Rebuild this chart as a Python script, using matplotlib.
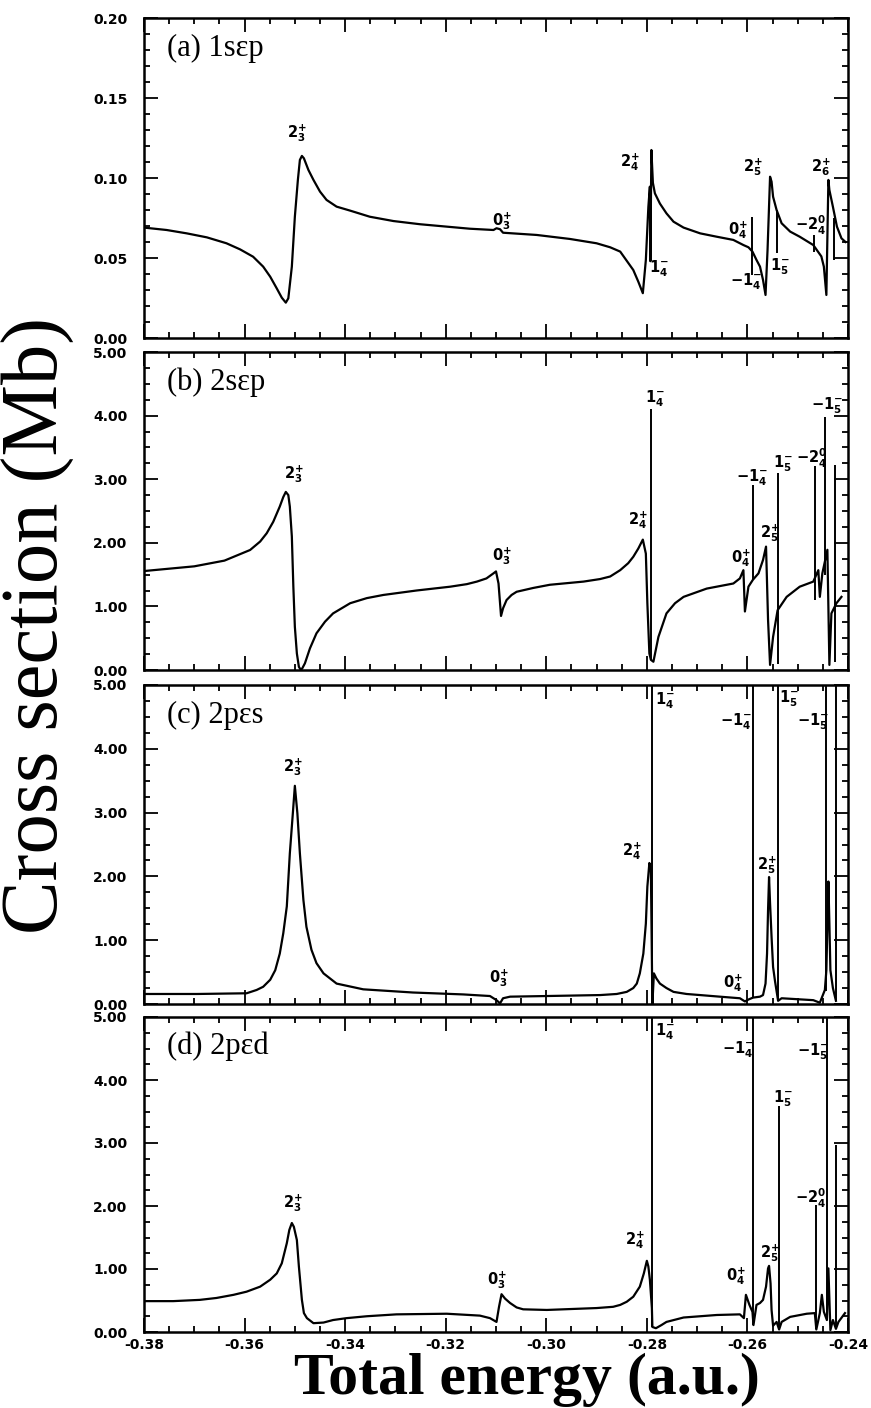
import numpy as np
import matplotlib
matplotlib.use("Agg")
import matplotlib.pyplot as plt
from matplotlib.ticker import MultipleLocator, FormatStrFormatter

plt.rcParams['axes.unicode_minus'] = False
plt.rcParams['mathtext.fontset'] = 'dejavusans'
plt.rcParams['mathtext.default'] = 'bf'

# ---- panel (a) 1s-ep : (energy, cross section) ----
curve_a = [(-0.3800, 0.0690), (-0.3755, 0.0675), (-0.3715, 0.0654), (-0.3675, 0.0629),
           (-0.3636, 0.0592), (-0.3609, 0.0554), (-0.3583, 0.0508), (-0.3563, 0.0446),
           (-0.3549, 0.0383), (-0.3536, 0.0310), (-0.3526, 0.0252), (-0.3518, 0.0221),
           (-0.3513, 0.0248), (-0.3506, 0.0446), (-0.3500, 0.0758), (-0.3494, 0.0988),
           (-0.3490, 0.1113), (-0.3486, 0.1138), (-0.3482, 0.1123), (-0.3473, 0.1050),
           (-0.3463, 0.0988), (-0.3450, 0.0915), (-0.3437, 0.0863), (-0.3417, 0.0821),
           (-0.3390, 0.0796), (-0.3351, 0.0758), (-0.3304, 0.0731), (-0.3251, 0.0711),
           (-0.3198, 0.0696), (-0.3152, 0.0683), (-0.3105, 0.0675), (-0.3099, 0.0686),
           (-0.3092, 0.0680), (-0.3086, 0.0658), (-0.3019, 0.0644), (-0.2953, 0.0619),
           (-0.2900, 0.0592), (-0.2873, 0.0567), (-0.2853, 0.0540), (-0.2827, 0.0425),
           (-0.2817, 0.0352), (-0.2808, 0.0280), (-0.2802, 0.0488), (-0.2797, 0.0820),
           (-0.2794, 0.0946), (-0.2793, 0.0480), (-0.2791, 0.1175), (-0.2788, 0.0970),
           (-0.2784, 0.0904), (-0.2774, 0.0840), (-0.2761, 0.0779), (-0.2747, 0.0727),
           (-0.2727, 0.0690), (-0.2694, 0.0654), (-0.2661, 0.0633), (-0.2628, 0.0613),
           (-0.2608, 0.0581), (-0.2598, 0.0567), (-0.2590, 0.0540), (-0.2582, 0.0488),
           (-0.2575, 0.0446), (-0.2569, 0.0363), (-0.2564, 0.0269), (-0.2560, 0.0550),
           (-0.2555, 0.1008), (-0.2552, 0.0977), (-0.2549, 0.0883), (-0.2542, 0.0800),
           (-0.2532, 0.0717), (-0.2515, 0.0665), (-0.2496, 0.0633), (-0.2469, 0.0581),
           (-0.2453, 0.0510), (-0.2448, 0.0446), (-0.2443, 0.0269), (-0.2439, 0.0988),
           (-0.2437, 0.0925), (-0.2430, 0.0820), (-0.2422, 0.0696), (-0.2413, 0.0623),
           (-0.2405, 0.0600)]
spike_xa = [-0.2590, -0.2542, -0.2468, -0.2427]
spike_loa = [0.0394, 0.053, 0.054, 0.049]
spike_hia = [0.0758, 0.080, 0.0644, 0.0748]
lab_a = [r'$2^{+}_{3}$', r'$0^{+}_{3}$', r'$2^{+}_{4}$', r'$1^{-}_{4}$', r'$2^{+}_{5}$',
         r'$0^{+}_{4}$', r'$-1^{-}_{4}$', r'$1^{-}_{5}$', r'$-2^{0}_{4}$', r'$2^{+}_{6}$']
lab_xa = [-0.3496, -0.3089, -0.2834, -0.2777, -0.2590, -0.2618, -0.2602, -0.2535, -0.2474, -0.2454]
lab_ya = [0.128, 0.073, 0.110, 0.0435, 0.107, 0.0675, 0.035, 0.0446, 0.0706, 0.107]

# ---- panel (b) 2s-ep ----
curve_b = [(-0.3800, 1.556), (-0.3700, 1.63), (-0.3640, 1.72), (-0.3589, 1.887), (-0.3569, 2.02),
           (-0.3556, 2.15), (-0.3543, 2.33), (-0.3530, 2.57), (-0.3523, 2.72), (-0.3518, 2.80),
           (-0.3513, 2.75), (-0.3510, 2.57), (-0.3506, 2.10), (-0.3503, 1.31), (-0.3500, 0.68),
           (-0.3496, 0.26), (-0.3492, 0.05), (-0.3488, 0.0), (-0.3485, 0.03), (-0.3480, 0.105),
           (-0.3470, 0.34), (-0.3457, 0.577), (-0.3440, 0.76), (-0.3424, 0.89), (-0.3390, 1.05),
           (-0.3357, 1.13), (-0.3324, 1.18), (-0.3258, 1.25), (-0.3191, 1.31), (-0.3158, 1.35),
           (-0.3138, 1.39), (-0.3119, 1.44), (-0.3105, 1.52), (-0.3100, 1.55), (-0.3095, 1.36),
           (-0.3090, 0.85), (-0.3086, 0.97), (-0.3079, 1.10), (-0.3069, 1.18), (-0.3059, 1.23),
           (-0.3026, 1.29), (-0.2993, 1.34), (-0.2926, 1.39), (-0.2893, 1.43), (-0.2873, 1.47),
           (-0.2853, 1.57), (-0.2837, 1.68), (-0.2827, 1.78), (-0.2817, 1.91), (-0.2808, 2.05),
           (-0.2802, 1.83), (-0.2799, 1.05), (-0.2795, 0.26), (-0.2792, 0.16), (-0.2787, 0.13),
           (-0.2777, 0.52), (-0.2761, 0.89), (-0.2744, 1.05), (-0.2727, 1.15), (-0.2681, 1.28),
           (-0.2628, 1.36), (-0.2615, 1.44), (-0.2608, 1.57), (-0.2605, 0.92), (-0.2598, 1.31),
           (-0.2589, 1.42), (-0.2578, 1.52), (-0.2569, 1.73), (-0.2563, 1.94), (-0.2559, 0.79),
           (-0.2555, 0.08), (-0.2549, 0.52), (-0.2540, 0.94), (-0.2522, 1.15), (-0.2496, 1.31),
           (-0.2469, 1.39), (-0.2459, 1.57), (-0.2456, 1.15), (-0.2451, 1.52), (-0.2441, 1.89),
           (-0.2437, 0.08), (-0.2433, 0.89), (-0.2423, 1.05), (-0.2413, 1.15)]
spike_xb = [-0.2792, -0.2589, -0.2540, -0.2466, -0.2445, -0.2426]
spike_lob = [0.16, 1.42, 0.10, 1.10, 1.50, 0.13]
spike_hib = [4.10, 2.91, 3.09, 3.20, 3.98, 3.22]
lab_b = [r'$2^{+}_{3}$', r'$0^{+}_{3}$', r'$2^{+}_{4}$', r'$1^{-}_{4}$', r'$0^{+}_{4}$',
         r'$-1^{-}_{4}$', r'$2^{+}_{5}$', r'$1^{-}_{5}$', r'$-2^{0}_{4}$', r'$-1^{-}_{5}$']
lab_xb = [-0.3501, -0.3089, -0.2817, -0.2784, -0.2612, -0.2590, -0.2555, -0.2530, -0.2472, -0.2441]
lab_yb = [3.08, 1.79, 2.36, 4.27, 1.76, 3.03, 2.15, 3.24, 3.33, 4.15]

# ---- panel (c) 2p-es ----
curve_c = [(-0.3800, 0.157), (-0.3695, 0.157), (-0.3596, 0.168), (-0.3576, 0.22), (-0.3563, 0.27),
           (-0.3549, 0.38), (-0.3539, 0.53), (-0.3530, 0.79), (-0.3523, 1.11), (-0.3516, 1.53),
           (-0.3510, 2.36), (-0.3504, 2.99), (-0.3500, 3.42), (-0.3495, 2.99), (-0.3490, 2.36),
           (-0.3483, 1.63), (-0.3477, 1.21), (-0.3467, 0.85), (-0.3457, 0.64), (-0.3443, 0.48),
           (-0.3417, 0.32), (-0.3364, 0.23), (-0.3265, 0.18), (-0.3165, 0.15), (-0.3112, 0.125),
           (-0.3099, 0.06), (-0.3092, 0.01), (-0.3086, 0.09), (-0.3072, 0.115), (-0.2999, 0.125),
           (-0.2893, 0.14), (-0.2860, 0.157), (-0.2840, 0.19), (-0.2827, 0.25), (-0.2820, 0.32),
           (-0.2814, 0.48), (-0.2807, 0.79), (-0.2802, 1.26), (-0.2799, 1.84), (-0.2795, 2.21),
           (-0.2792, 2.10), (-0.2789, 0.0), (-0.2786, 0.48), (-0.2781, 0.40), (-0.2774, 0.32),
           (-0.2761, 0.25), (-0.2747, 0.19), (-0.2721, 0.157), (-0.2694, 0.14), (-0.2655, 0.115),
           (-0.2615, 0.09), (-0.2605, 0.04), (-0.2598, 0.07), (-0.2589, 0.10), (-0.2575, 0.115),
           (-0.2569, 0.14), (-0.2564, 0.32), (-0.2561, 0.79), (-0.2559, 1.47), (-0.2557, 1.99),
           (-0.2555, 1.58), (-0.2552, 1.05), (-0.2549, 0.58), (-0.2545, 0.35), (-0.2539, 0.05),
           (-0.2532, 0.09), (-0.2469, 0.06), (-0.2456, 0.02), (-0.2446, 0.22), (-0.2443, 0.53),
           (-0.2440, 1.58), (-0.2439, 1.92), (-0.2437, 1.26), (-0.2435, 0.53), (-0.2430, 0.25),
           (-0.2424, 0.05)]
spike_xc = [-0.2789, -0.2589, -0.2539, -0.2443, -0.2424]
spike_loc = [0.0, 0.10, 0.05, 0.20, 0.05]
spike_hic = [6.0, 6.0, 6.0, 6.0, 6.0]
lab_c = [r'$2^{+}_{3}$', r'$0^{+}_{3}$', r'$2^{+}_{4}$', r'$1^{-}_{4}$', r'$-1^{-}_{4}$',
         r'$0^{+}_{4}$', r'$2^{+}_{5}$', r'$1^{-}_{5}$', r'$-1^{-}_{5}$']
lab_xc = [-0.3504, -0.3095, -0.2830, -0.2764, -0.2622, -0.2628, -0.2561, -0.2518, -0.2469]
lab_yc = [3.71, 0.40, 2.39, 4.76, 4.42, 0.32, 2.18, 4.79, 4.42]

# ---- panel (d) 2p-ed ----
curve_d = [(-0.3800, 0.49), (-0.3742, 0.49), (-0.3689, 0.51), (-0.3656, 0.54), (-0.3622, 0.59),
           (-0.3596, 0.64), (-0.3569, 0.72), (-0.3549, 0.83), (-0.3536, 0.93), (-0.3526, 1.09),
           (-0.3516, 1.41), (-0.3511, 1.62), (-0.3506, 1.73), (-0.3502, 1.67), (-0.3496, 1.46),
           (-0.3492, 1.04), (-0.3486, 0.51), (-0.3482, 0.30), (-0.3476, 0.22), (-0.3463, 0.14),
           (-0.3443, 0.15), (-0.3424, 0.19), (-0.3397, 0.22), (-0.3357, 0.25), (-0.3298, 0.28),
           (-0.3198, 0.29), (-0.3132, 0.26), (-0.3112, 0.22), (-0.3099, 0.16), (-0.3094, 0.40),
           (-0.3089, 0.60), (-0.3082, 0.53), (-0.3072, 0.46), (-0.3059, 0.39), (-0.3046, 0.36),
           (-0.2999, 0.35), (-0.2900, 0.38), (-0.2867, 0.40), (-0.2853, 0.43), (-0.2840, 0.48),
           (-0.2827, 0.56), (-0.2814, 0.72), (-0.2806, 0.93), (-0.2800, 1.13), (-0.2797, 1.04),
           (-0.2794, 0.83), (-0.2790, 0.38), (-0.2789, 0.08), (-0.2782, 0.06), (-0.2771, 0.11),
           (-0.2761, 0.16), (-0.2727, 0.23), (-0.2661, 0.27), (-0.2615, 0.28), (-0.2607, 0.22),
           (-0.2603, 0.59), (-0.2596, 0.43), (-0.2590, 0.32), (-0.2588, 0.11), (-0.2582, 0.43),
           (-0.2575, 0.46), (-0.2569, 0.51), (-0.2563, 0.72), (-0.2559, 1.01), (-0.2557, 1.05),
           (-0.2554, 0.77), (-0.2552, 0.35), (-0.2549, 0.10), (-0.2542, 0.16), (-0.2537, 0.04),
           (-0.2532, 0.16), (-0.2515, 0.24), (-0.2482, 0.29), (-0.2466, 0.30), (-0.2463, 0.04),
           (-0.2456, 0.30), (-0.2452, 0.59), (-0.2448, 0.32), (-0.2442, 0.19), (-0.2439, 1.01),
           (-0.2435, 0.03), (-0.2430, 0.19), (-0.2424, 0.05), (-0.2419, 0.16), (-0.2406, 0.30)]
spike_xd = [-0.2789, -0.2588, -0.2537, -0.2463, -0.2442, -0.2424]
spike_lod = [0.08, 0.11, 0.04, 0.04, 0.19, 0.05]
spike_hid = [6.0, 6.0, 3.58, 2.02, 6.0, 2.97]
lab_d = [r'$2^{+}_{3}$', r'$0^{+}_{3}$', r'$2^{+}_{4}$', r'$1^{-}_{4}$', r'$-1^{-}_{4}$',
         r'$0^{+}_{4}$', r'$2^{+}_{5}$', r'$1^{-}_{5}$', r'$-2^{0}_{4}$', r'$-1^{-}_{5}$']
lab_xd = [-0.3503, -0.3099, -0.2824, -0.2764, -0.2618, -0.2622, -0.2555, -0.2530, -0.2474, -0.2469]
lab_yd = [2.04, 0.83, 1.46, 4.77, 4.48, 0.88, 1.25, 3.71, 2.12, 4.45]

titles = ['(a) 1sεp', '(b) 2sεp', '(c) 2pεs', '(d) 2pεd']

panels = [
    (curve_a, spike_xa, spike_loa, spike_hia, lab_a, lab_xa, lab_ya),
    (curve_b, spike_xb, spike_lob, spike_hib, lab_b, lab_xb, lab_yb),
    (curve_c, spike_xc, spike_loc, spike_hic, lab_c, lab_xc, lab_yc),
    (curve_d, spike_xd, spike_lod, spike_hid, lab_d, lab_xd, lab_yd),
]

fig = plt.figure(figsize=(8.71, 14.08), dpi=100)
W, H = 871.0, 1408.0
left, right = 144, 848
tops = [18, 352, 685, 1017]
bots = [338, 670, 1004, 1332]

for i, (curve, sx, slo, shi, labs, lx, ly) in enumerate(panels):
    ax = fig.add_axes([left / W, 1 - bots[i] / H, (right - left) / W, (bots[i] - tops[i]) / H])
    cx, cy = zip(*curve)
    ax.plot(cx, cy, color='k', lw=1.6, solid_joinstyle='round')
    ax.vlines(sx, slo, shi, color='k', lw=1.4)
    for s, tx, ty in zip(labs, lx, ly):
        ax.text(tx, ty, s, ha='center', va='center', fontsize=10.5)
    ax.set_xlim(-0.38, -0.24)
    ax.xaxis.set_major_locator(MultipleLocator(0.02))
    ax.xaxis.set_minor_locator(MultipleLocator(0.005))
    ax.xaxis.set_major_formatter(FormatStrFormatter('%.2f'))
    if i == 0:
        ax.set_ylim(0, 0.2)
        ax.yaxis.set_major_locator(MultipleLocator(0.05))
        ax.yaxis.set_minor_locator(MultipleLocator(0.01))
    else:
        ax.set_ylim(0, 5)
        ax.yaxis.set_major_locator(MultipleLocator(1.0))
        ax.yaxis.set_minor_locator(MultipleLocator(0.25))
    ax.yaxis.set_major_formatter(FormatStrFormatter('%.2f'))
    ax.tick_params(which='both', direction='in', top=True, right=True, width=1.3)
    ax.tick_params(which='major', length=10)
    ax.tick_params(which='minor', length=4)
    ax.tick_params(axis='y', pad=12)
    ax.tick_params(axis='x', pad=4, labelbottom=(i == 3))
    for lbl in ax.get_xticklabels() + ax.get_yticklabels():
        lbl.set_fontweight('bold')
        lbl.set_fontsize(10)
    for sp in ax.spines.values():
        sp.set_linewidth(1.8)
    ax.text(0.033, 0.906, titles[i], transform=ax.transAxes, va='center', ha='left',
            fontsize=22, family='Liberation Serif')

fig.text(38 / W, 1 - 625 / H, 'Cross section (Mb)', rotation=90, ha='center', va='center',
         fontsize=58, family='Liberation Serif')
fig.text(527 / W, 1 - 1380 / H, 'Total energy (a.u.)', ha='center', va='center',
         fontsize=43, fontweight='bold', family='Liberation Serif')

fig.savefig('out.png', dpi=100)
